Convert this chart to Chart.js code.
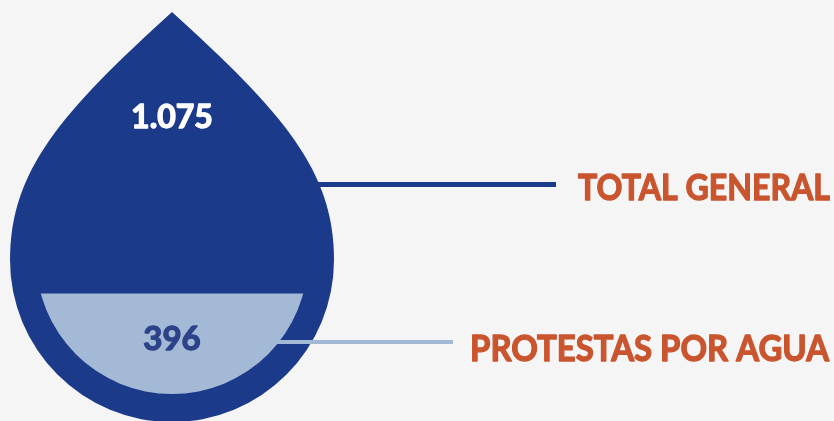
<!DOCTYPE html>
<html>
<head>
<meta charset="utf-8">
<script src="https://cdn.jsdelivr.net/npm/chart.js@4.4.1/dist/chart.umd.min.js"></script>
<style>
  html, body { margin: 0; padding: 0; background: #f5f5f5; }
  #wrap { width: 834px; height: 421px; }
</style>
</head>
<body>
<div id="wrap"><canvas id="drop"></canvas></div>
<script>
const categories = ['Protestas'];
const seriesNames = ['PROTESTAS POR AGUA', 'TOTAL GENERAL'];
const aguaValues = [396];
const totalValues = [1075];
const valueLabels = ['396', '1.075'];

const darkBlue = '#1b3a8a';
const lightBlue = '#a3b9d6';
const orange = '#c9552f';

// inner circle of the drop
function innerCircle(chart) {
    const y = chart.scales.y;
    const top = y.getPixelForValue(y.max);
    const bottom = y.getPixelForValue(0);
    const a = chart.chartArea;
    return { cx: (a.left + a.right) / 2, cy: (top + bottom) / 2, r: (bottom - top) / 2, top: top };
}

// heavy text: fill plus a thin stroke, squeezed to a given width
function heavyText(ctx, text, x, y, width) {
    const w = width ? ctx.measureText(text).width : 1;
    ctx.save();
    ctx.translate(x, y);
    if (width) ctx.scale(width / w, 1);
    ctx.strokeStyle = ctx.fillStyle;
    ctx.lineWidth = 1.3;
    ctx.lineJoin = 'round';
    ctx.fillText(text, 0, 0);
    ctx.strokeText(text, 0, 0);
    ctx.restore();
}

const dropPlugin = {
    id: 'dropPlugin',
    beforeDatasetsDraw(chart) {
        const ctx = chart.ctx;
        const c = innerCircle(chart);
        const cx = c.cx, cy = c.cy + 2, R = c.r + 26;
        const tipY = 12;

        // leader line of the total, behind the drop
        ctx.save();
        ctx.strokeStyle = darkBlue;
        ctx.lineWidth = 5;
        ctx.beginPath();
        ctx.moveTo(cx + 120, 184.5);
        ctx.lineTo(556, 184.5);
        ctx.stroke();

        ctx.fillStyle = darkBlue;
        ctx.beginPath();
        ctx.moveTo(cx, tipY);
        ctx.bezierCurveTo(cx + 110, tipY + 100, cx + R, cy - 90, cx + R, cy);
        ctx.arc(cx, cy, R, 0, Math.PI, false);
        ctx.bezierCurveTo(cx - R, cy - 90, cx - 110, tipY + 100, cx, tipY);
        ctx.closePath();
        ctx.fill();
        ctx.restore();
    },
    beforeDatasetDraw(chart) {
        const ctx = chart.ctx;
        const c = innerCircle(chart);
        ctx.save();
        ctx.beginPath();
        ctx.arc(c.cx, c.cy, c.r, 0, Math.PI * 2);
        ctx.clip();
    },
    afterDatasetDraw(chart) {
        chart.ctx.restore();
    },
    afterDatasetsDraw(chart) {
        const ctx = chart.ctx;
        const c = innerCircle(chart);
        const aguaBar = chart.getDatasetMeta(0).data[0];

        // leader line of the water protests
        const ly = 342;
        const lx = c.cx + Math.sqrt(c.r * c.r - (ly - c.cy) * (ly - c.cy));
        ctx.save();
        ctx.strokeStyle = lightBlue;
        ctx.lineWidth = 4;
        ctx.beginPath();
        ctx.moveTo(lx - 2, ly);
        ctx.lineTo(453, ly);
        ctx.stroke();

        ctx.textAlign = 'center';
        ctx.textBaseline = 'alphabetic';
        ctx.font = 'bold 32px Lato';
        ctx.fillStyle = '#ffffff';
        heavyText(ctx, valueLabels[1], c.cx, c.top + 6);
        ctx.font = 'bold 33px Lato';
        ctx.fillStyle = '#2c4389';
        heavyText(ctx, valueLabels[0], c.cx, aguaBar.y + 56);

        ctx.textAlign = 'left';
        ctx.font = 'bold 36px Lato';
        ctx.fillStyle = orange;
        heavyText(ctx, seriesNames[1], 578, 200, 252);
        heavyText(ctx, seriesNames[0], 470, 361, 359);
        ctx.restore();
    }
};

new Chart(document.getElementById('drop'), {
    type: 'bar',
    data: {
        labels: categories,
        datasets: [{
            label: seriesNames[0],
            data: aguaValues,
            backgroundColor: lightBlue,
            grouped: false,
            barPercentage: 1,
            categoryPercentage: 1,
            borderWidth: 0
        }, {
            label: seriesNames[1],
            data: totalValues,
            backgroundColor: darkBlue,
            grouped: false,
            barPercentage: 1,
            categoryPercentage: 1,
            borderWidth: 0
        }]
    },
    options: {
        responsive: true,
        maintainAspectRatio: false,
        animation: false,
        layout: { padding: { top: 122, bottom: 27, left: 36, right: 526 } },
        plugins: { legend: { display: false }, tooltip: { enabled: false } },
        scales: {
            x: { display: false },
            y: { display: false, min: 0, max: 1075 }
        }
    },
    plugins: [dropPlugin]
});
</script>
</body>
</html>
